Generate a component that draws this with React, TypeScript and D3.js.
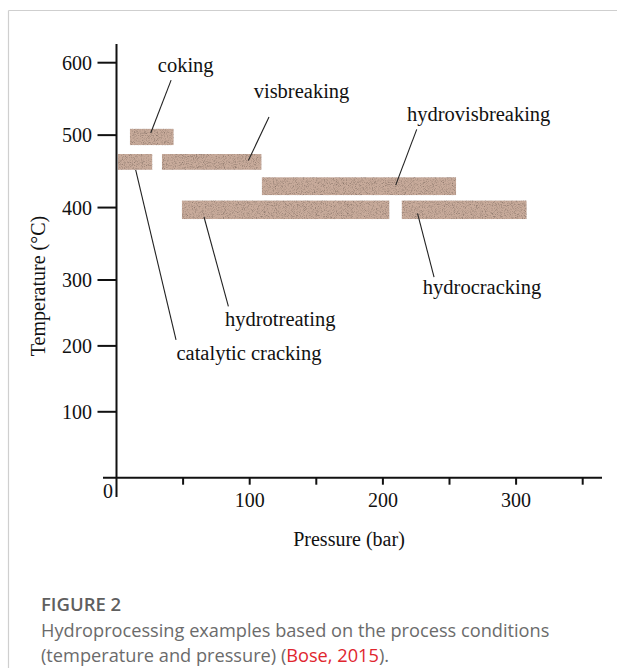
import React from "react";
import * as d3 from "d3";

// ---- data ----
const processes = ["coking", "catalytic cracking", "visbreaking", "hydrovisbreaking", "hydrotreating", "hydrocracking"];
const pressureMin = [10, 1, 34, 109, 49, 214];
const pressureMax = [43, 27, 109, 255, 205, 308];
const tempMin = [486, 452, 452, 417, 384, 384];
const tempMax = [509, 474, 474, 442, 410, 410];

// label anchors (data units): text start, leader start (near text), leader end (on bar)
const labelP = [31, 45, 103, 218, 81.5, 230];
const labelT = [587, 179, 551, 519, 230, 279];
const leaderP1 = [41, 44.7, 114.5, 225.4, 84, 238.4];
const leaderT1 = [576, 209, 525, 508, 260, 304];
const leaderP2 = [25.7, 14.4, 99, 209.6, 65.7, 226];
const leaderT2 = [503, 452, 465, 431, 387, 392];

const yTicks = [100, 200, 300, 400, 500, 600];
const xTicks = [50, 100, 150, 200, 250, 300, 350];
const xTickLabels = [100, 200, 300];

const W = 617;
const H = 668;
const serif = "'Liberation Serif', 'Times New Roman', serif";
const sans = "'Open Sans', 'Noto Sans', sans-serif";

export default function App() {
  const x = d3.scaleLinear().domain([0, 360]).range([116.5, 116.5 + 360 * 1.332]);
  const y = d3.scaleLinear().domain([0, 300, 600]).range([477.7, 280, 62.7]);
  const x0 = x(0);
  const y0 = y(0);

  return (
    <svg
      width={W}
      height={H}
      style={{ position: "absolute", left: 0, top: 0, background: "#fff" }}
    >
      <defs>
        <filter id="grain" x="0" y="0" width="100%" height="100%">
          <feTurbulence type="fractalNoise" baseFrequency="1.1" numOctaves="2" seed="4" result="noise" />
          <feColorMatrix
            in="noise"
            type="matrix"
            values="1.3 0 0 0 0.28  1.3 0 0 0 0.28  1.3 0 0 0 0.28  0 0 0 0 1"
            result="tone"
          />
          <feBlend in="SourceGraphic" in2="tone" mode="multiply" result="mix" />
          <feComposite in="mix" in2="SourceGraphic" operator="in" />
        </filter>
      </defs>

      {/* frame */}
      <line x1={8.5} y1={10.5} x2={W} y2={10.5} stroke="#cfcfcf" strokeWidth={1.2} />
      <line x1={8.5} y1={10.5} x2={8.5} y2={H} stroke="#cfcfcf" strokeWidth={1.2} />

      {/* bars */}
      {processes.map((p, i) => (
        <rect
          key={p}
          x={x(pressureMin[i])}
          y={y(tempMax[i])}
          width={x(pressureMax[i]) - x(pressureMin[i])}
          height={y(tempMin[i]) - y(tempMax[i])}
          fill="#c8ab9b"
          filter="url(#grain)"
        />
      ))}

      {/* axes */}
      <line x1={x0} y1={44} x2={x0} y2={497} stroke="#111" strokeWidth={2} />
      <line x1={103} y1={y0} x2={602} y2={y0} stroke="#111" strokeWidth={2} />
      {yTicks.map((t) => (
        <g key={t}>
          <line x1={x0 - 19} x2={x0} y1={y(t)} y2={y(t)} stroke="#111" strokeWidth={2} />
          <text x={92} y={y(t) + 7} textAnchor="end" fontFamily={serif} fontSize={20} fill="#111">
            {t}
          </text>
        </g>
      ))}
      <text x={113} y={498} textAnchor="end" fontFamily={serif} fontSize={20} fill="#111">0</text>
      {xTicks.map((t) => (
        <line key={t} x1={x(t)} x2={x(t)} y1={y0} y2={y0 + 7} stroke="#111" strokeWidth={2} />
      ))}
      {xTickLabels.map((t) => (
        <text key={t} x={x(t)} y={507} textAnchor="middle" fontFamily={serif} fontSize={20} fill="#111">
          {t}
        </text>
      ))}

      <text x={349} y={546} textAnchor="middle" fontFamily={serif} fontSize={20} fill="#111">
        Pressure (bar)
      </text>
      <text
        transform={`translate(45,286) rotate(-90)`}
        textAnchor="middle"
        fontFamily={serif}
        fontSize={20}
        fill="#111"
      >
        Temperature (°C)
      </text>

      {/* labels and leaders */}
      {processes.map((p, i) => (
        <g key={"l" + p}>
          <line
            x1={x(leaderP1[i])}
            y1={y(leaderT1[i])}
            x2={x(leaderP2[i])}
            y2={y(leaderT2[i])}
            stroke="#222"
            strokeWidth={1.1}
          />
          <text x={x(labelP[i])} y={y(labelT[i])} fontFamily={serif} fontSize={20.5} fill="#111">
            {p}
          </text>
        </g>
      ))}

      {/* caption */}
      <text x={41} y={611} fontFamily={sans} fontSize={18.5} fontWeight={600} fill="#5f5f5f">
        FIGURE 2
      </text>
      <text x={41} y={637} fontFamily={sans} fontSize={18.2} fill="#6b6b6b">
        Hydroprocessing examples based on the process conditions
      </text>
      <text x={41} y={662} fontFamily={sans} fontSize={18.2} fill="#6b6b6b">
        (temperature and pressure) (<tspan fill="#e0262e">Bose, 2015</tspan>).
      </text>
    </svg>
  );
}
